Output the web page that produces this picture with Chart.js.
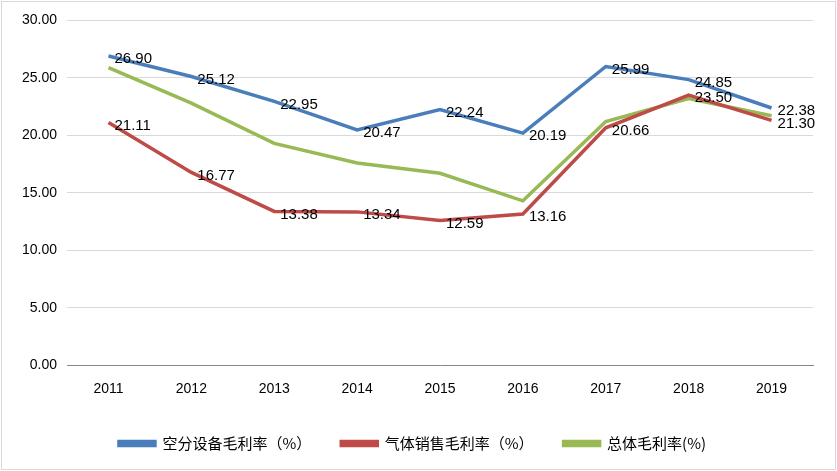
<!DOCTYPE html>
<html>
<head>
<meta charset="utf-8">
<script src="https://cdn.jsdelivr.net/npm/chart.js@4/dist/chart.umd.min.js"></script>
<style>
  html, body { margin: 0; padding: 0; background: #fff; }
  .wrap { position: absolute; left: 1px; top: 1px; width: 833px; height: 467px; border: 1px solid #d9d9d9; }
</style>
</head>
<body>
<div class="wrap"><canvas id="chart"></canvas></div>
<script>
// chart data
const years = ['2011', '2012', '2013', '2014', '2015', '2016', '2017', '2018', '2019'];
const equipment = [26.90, 25.12, 22.95, 20.47, 22.24, 20.19, 25.99, 24.85, 22.38];
const gasSales = [21.11, 16.77, 13.38, 13.34, 12.59, 13.16, 20.66, 23.50, 21.30];
const overall = [25.9, 22.8, 19.3, 17.6, 16.7, 14.3, 21.2, 23.2, 21.7];

// draws value labels to the right of the points for labelled series
const pointLabels = {
    id: 'pointLabels',
    afterDatasetsDraw(chart) {
        const ctx = chart.ctx;
        ctx.save();
        ctx.font = '15px "Liberation Sans", Arial, sans-serif';
        ctx.fillStyle = '#000';
        ctx.textBaseline = 'middle';
        ctx.textAlign = 'left';
        chart.data.datasets.forEach((ds, i) => {
            if (!ds.showLabels) return;
            chart.getDatasetMeta(i).data.forEach((pt, j) => {
                ctx.fillText(ds.data[j].toFixed(2), pt.x + 6, pt.y + 3);
            });
        });
        ctx.restore();
    }
};

new Chart(document.getElementById('chart'), {
    type: 'line',
    data: {
        labels: years,
        datasets: [
            { label: '空分设备毛利率（%）', data: equipment, borderColor: '#4a7ebb', backgroundColor: '#4a7ebb', showLabels: true },
            { label: '气体销售毛利率（%）', data: gasSales, borderColor: '#be4b48', backgroundColor: '#be4b48', showLabels: true },
            { label: '总体毛利率(%)', data: overall, borderColor: '#98b954', backgroundColor: '#98b954', showLabels: false }
        ].map(d => Object.assign(d, { borderWidth: 3.5, pointRadius: 0, tension: 0 }))
    },
    options: {
        responsive: true,
        maintainAspectRatio: false,
        animation: false,
        layout: { padding: { left: 10, right: 22, top: 12, bottom: 8 } },
        plugins: {
            legend: {
                position: 'bottom',
                labels: {
                    boxWidth: 36, boxHeight: 4, padding: 30, color: '#000',
                    font: { size: 15, family: '"Noto Sans CJK SC", sans-serif' }
                }
            },
            tooltip: { enabled: false }
        },
        scales: {
            x: {
                offset: true,
                grid: { display: false, offset: true },
                border: { color: '#868686' },
                ticks: { color: '#000', padding: 8, font: { size: 14, family: '"Liberation Sans", Arial' } }
            },
            y: {
                min: 0, max: 30,
                ticks: { stepSize: 5, color: '#000', padding: 10, font: { size: 14, family: '"Liberation Sans", Arial' }, callback: v => v.toFixed(2) },
                grid: { color: '#d9d9d9', drawTicks: false },
                border: { display: false }
            }
        }
    },
    plugins: [pointLabels]
});
</script>
</body>
</html>
